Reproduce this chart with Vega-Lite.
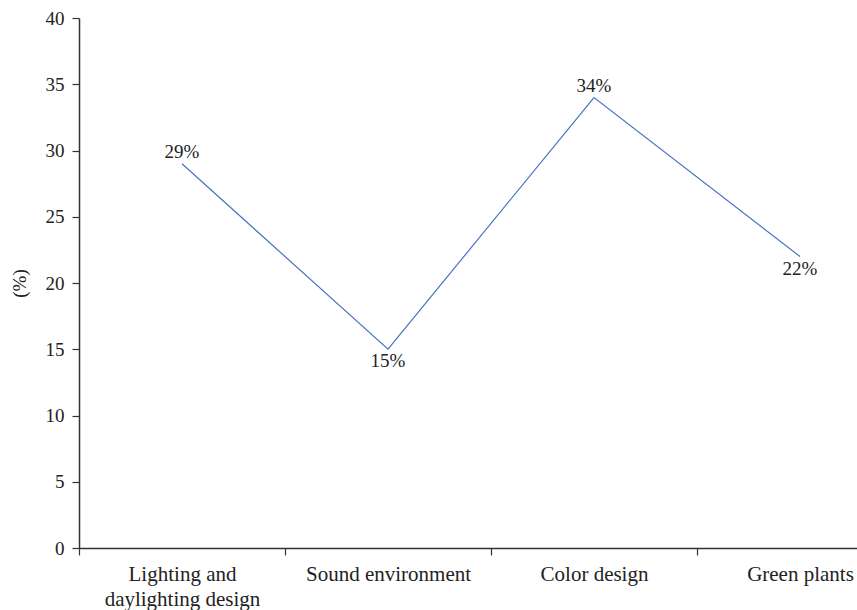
{
  "$schema": "https://vega.github.io/schema/vega-lite/v6.json",
  "autosize": {"type": "none"},
  "padding": {"left": 79, "top": 18, "right": 0, "bottom": 62},
  "width": 824,
  "height": 530,
  "background": "white",
  "config": {
    "view": {"stroke": null},
    "font": "Liberation Serif",
    "axis": {
      "labelFont": "Liberation Serif",
      "titleFont": "Liberation Serif",
      "labelFontSize": 19,
      "titleFontSize": 19,
      "labelColor": "#222222",
      "titleColor": "#222222",
      "titleFontWeight": "normal",
      "domainColor": "#333333",
      "tickColor": "#333333",
      "domainWidth": 1.5,
      "tickWidth": 1.2,
      "tickSize": 7,
      "grid": false
    }
  },
  "data": {
    "values": [
      {"factor": "Lighting and daylighting design", "value": 29, "label": "29%", "pos": "above"},
      {"factor": "Sound environment", "value": 15, "label": "15%", "pos": "below"},
      {"factor": "Color design", "value": 34, "label": "34%", "pos": "above"},
      {"factor": "Green plants", "value": 22, "label": "22%", "pos": "below"}
    ]
  },
  "encoding": {
    "x": {
      "field": "factor",
      "type": "nominal",
      "sort": null,
      "scale": {"paddingInner": 0, "paddingOuter": 0},
      "axis": {
        "title": null,
        "labelAngle": 0,
        "labelFontSize": 21,
        "tickBand": "extent",
        "labelPadding": 8,
        "labelLineHeight": 25,
        "labelBaseline": "top",
        "labelExpr": "datum.label == 'Lighting and daylighting design' ? ['Lighting and', 'daylighting design'] : datum.label"
      }
    },
    "y": {
      "field": "value",
      "type": "quantitative",
      "scale": {"domain": [0, 40], "nice": false},
      "axis": {
        "title": "(%)",
        "values": [0, 5, 10, 15, 20, 25, 30, 35, 40],
        "labelPadding": 8,
        "titlePadding": 16
      }
    }
  },
  "layer": [
    {"mark": {"type": "line", "color": "#4a72c4", "strokeWidth": 1.2}},
    {
      "transform": [{"filter": "datum.pos == 'above'"}],
      "mark": {"type": "text", "dy": -12, "fontSize": 19, "color": "#222222", "font": "Liberation Serif"},
      "encoding": {"text": {"field": "label"}}
    },
    {
      "transform": [{"filter": "datum.pos == 'below'"}],
      "mark": {"type": "text", "dy": 12, "fontSize": 19, "color": "#222222", "font": "Liberation Serif"},
      "encoding": {"text": {"field": "label"}}
    }
  ]
}
